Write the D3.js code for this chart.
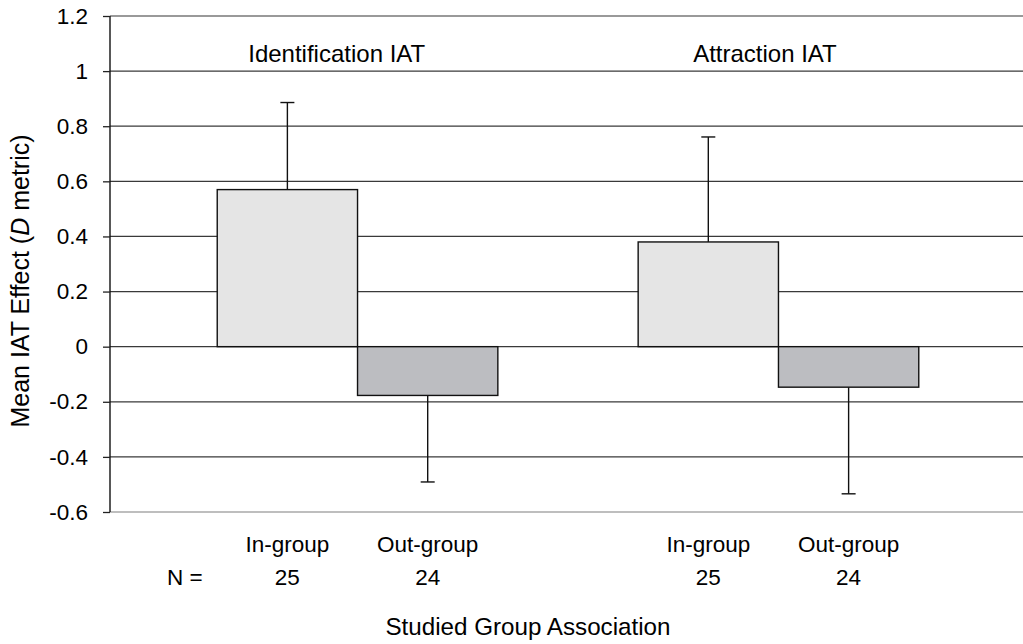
<!DOCTYPE html>
<html>
<head>
<meta charset="utf-8">
<script src="https://cdn.jsdelivr.net/npm/d3@7"></script>
<style>
  html, body { margin: 0; padding: 0; background: #fff; }
  svg { display: block; font-family: "Liberation Sans", Arial, sans-serif; }
</style>
</head>
<body>
<svg id="chart" width="1023" height="644"></svg>
<script>
// IAT blocks and studied-group conditions
const groups = ["Identification IAT", "Attraction IAT"];
const conditions = ["In-group", "Out-group"];

// Mean D scores per block, in condition order
const identificationMeans = [0.57, -0.177];
const attractionMeans = [0.38, -0.147];

// Error bar lengths per block, in condition order
const identificationErrors = [0.316, 0.314];
const attractionErrors = [0.381, 0.387];

// Sample sizes per condition
const identificationN = [25, 24];
const attractionN = [25, 24];

// Y axis ticks
const yTicks = [-0.6, -0.4, -0.2, 0, 0.2, 0.4, 0.6, 0.8, 1, 1.2];

const rows = [
  { group: groups[0], means: identificationMeans, errors: identificationErrors, n: identificationN },
  { group: groups[1], means: attractionMeans, errors: attractionErrors, n: attractionN }
];
const bars = rows.flatMap(r => conditions.map((c, i) => ({
  group: r.group, condition: c, mean: r.means[i], err: r.errors[i], n: r.n[i]
})));

const svg = d3.select("#chart");
const axisX = 110, gridRight = 1023;

const y = d3.scaleLinear().domain([-0.6, 1.2]).range([512, 16]);
const x0 = d3.scaleBand().domain(groups).range([112, 1024])
  .paddingInner(1 / 3).paddingOuter(0.25);
const x1 = d3.scaleBand().domain(conditions).range([0, x0.bandwidth()]);
const fills = d3.scaleOrdinal().domain(conditions).range(["#e5e5e5", "#bcbdc1"]);

// Gridlines
svg.append("g").selectAll("line").data(yTicks).join("line")
  .attr("x1", axisX).attr("x2", gridRight)
  .attr("y1", d => y(d)).attr("y2", d => y(d))
  .attr("stroke", d => d === -0.6 ? "#a8a8a8" : (d === 1.2 ? "#777" : "#3a3a3a"))
  .attr("stroke-width", 1.3);

// Y axis with outward ticks
const yAxis = svg.append("g")
  .attr("transform", `translate(${axisX},0)`)
  .call(d3.axisLeft(y).tickValues(yTicks).tickSize(7).tickPadding(15)
    .tickFormat(d => d === 0 ? "0" : String(+d.toFixed(1))));
yAxis.select(".domain").attr("stroke", "#111").attr("stroke-width", 1.4).attr("d", `M0,${y(1.2)}V${y(-0.6)}`);
yAxis.selectAll(".tick line").attr("stroke", "#222").attr("stroke-width", 1.3);
yAxis.selectAll(".tick text").attr("font-size", "22.5px").attr("fill", "#000")
  .attr("font-family", "'Liberation Sans', Arial, sans-serif");

// Error bars (one-sided, away from zero)
const capW = 14;
const eb = svg.append("g").selectAll("g").data(bars).join("g")
  .attr("transform", d => `translate(${x0(d.group) + x1(d.condition) + x1.bandwidth() / 2},0)`);
eb.append("line")
  .attr("y1", d => y(d.mean))
  .attr("y2", d => y(d.mean + Math.sign(d.mean) * d.err))
  .attr("stroke", "#111").attr("stroke-width", 1.4);
eb.append("line")
  .attr("x1", -capW / 2).attr("x2", capW / 2)
  .attr("y1", d => y(d.mean + Math.sign(d.mean) * d.err))
  .attr("y2", d => y(d.mean + Math.sign(d.mean) * d.err))
  .attr("stroke", "#111").attr("stroke-width", 1.4);

// Bars
svg.append("g").selectAll("rect").data(bars).join("rect")
  .attr("x", d => x0(d.group) + x1(d.condition))
  .attr("width", x1.bandwidth())
  .attr("y", d => y(Math.max(0, d.mean)))
  .attr("height", d => Math.abs(y(d.mean) - y(0)))
  .attr("fill", d => fills(d.condition))
  .attr("stroke", "#111").attr("stroke-width", 1.4);

// Block titles inside the plot
const titleOffset = { "Identification IAT": 31, "Attraction IAT": 55 };
svg.append("g").selectAll("text").data(groups).join("text")
  .attr("x", d => x0(d) + titleOffset[d])
  .attr("y", 62)
  .attr("font-size", "24px")
  .text(d => d);

// Condition labels and sample sizes
svg.append("g").selectAll("text").data(bars).join("text")
  .attr("x", d => x0(d.group) + x1(d.condition) + x1.bandwidth() / 2)
  .attr("y", 552).attr("text-anchor", "middle").attr("font-size", "22.5px")
  .text(d => d.condition);
svg.append("g").selectAll("text").data(bars).join("text")
  .attr("x", d => x0(d.group) + x1(d.condition) + x1.bandwidth() / 2)
  .attr("y", 585).attr("text-anchor", "middle").attr("font-size", "22.5px")
  .text(d => d.n);
svg.append("text").attr("x", 167).attr("y", 585).attr("font-size", "22.5px").text("N =");

// Axis titles
svg.append("text").attr("x", 528).attr("y", 635).attr("text-anchor", "middle")
  .attr("font-size", "24.2px").text("Studied Group Association");

const yTitle = svg.append("text")
  .attr("transform", `translate(29,${281}) rotate(-90)`)
  .attr("text-anchor", "middle").attr("font-size", "25px");
yTitle.append("tspan").text("Mean IAT Effect (");
yTitle.append("tspan").attr("font-style", "italic").text("D");
yTitle.append("tspan").text(" metric)");
</script>
</body>
</html>
